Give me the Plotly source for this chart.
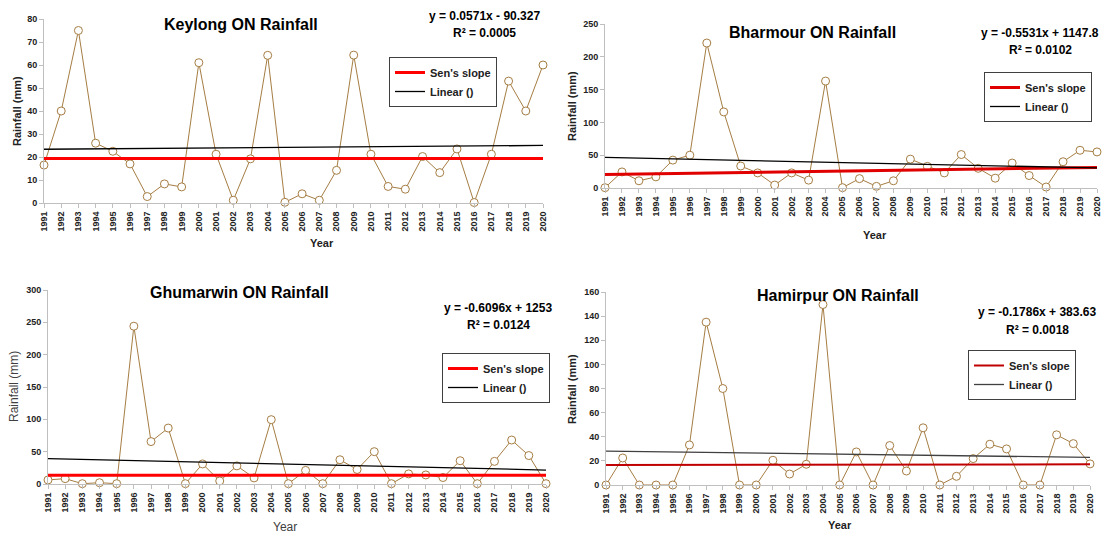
import plotly.graph_objects as go

years = [1991, 1992, 1993, 1994, 1995, 1996, 1997, 1998, 1999, 2000,
         2001, 2002, 2003, 2004, 2005, 2006, 2007, 2008, 2009, 2010,
         2011, 2012, 2013, 2014, 2015, 2016, 2017, 2018, 2019, 2020]
year_labels = [str(y) for y in years]

keylong = [16.5, 40, 75, 26, 22.5, 17, 2.8, 8.3, 7, 61,
           21.2, 1.2, 19.2, 64.2, 0.3, 4, 1.2, 14.2, 64.3, 21.2,
           7.2, 6, 20.2, 13.2, 23.5, 0.2, 21.2, 53, 40, 60]
bharmour = [0.5, 24.5, 11, 17, 42.5, 50, 221, 116, 33.5, 23,
            4.5, 23, 12, 163, 0.5, 14.3, 2.5, 11, 44, 33,
            23, 51, 30, 15, 38, 19, 1.5, 40, 57.5, 55]
ghumarwin = [6.3, 8.3, 0.5, 2, 0.5, 244, 65.6, 86.5, 0.5, 31,
             4.7, 28, 9.4, 99.5, 0.5, 21, 0.5, 37.5, 22.4, 50,
             0.5, 15.6, 14, 10, 36, 0.5, 35, 68, 44, 0.5]
hamirpur = [0, 22.4, 0, 0, 0, 33.2, 135, 80, 0, 0,
            20.5, 9.1, 17.2, 149.6, 0, 27.4, 0, 32.7, 11.6, 47.4,
            0, 7.2, 21.9, 33.8, 29.9, 0, 0, 41.6, 34.3, 17.5]

# Sen's slope line end values (1991, 2020)
sen_keylong = [19.3, 19.3]
sen_bharmour = [20.4, 31.4]
sen_ghumarwin = [13.5, 13.5]
sen_hamirpur = [16.5, 17.2]

# printed linear-trend coefficients (slope, intercept)
lin_keylong = [0.0571, -90.327]
lin_bharmour = [-0.5531, 1147.8]
lin_ghumarwin = [-0.6096, 1253]
lin_hamirpur = [-0.1786, 383.63]

titles = ["Keylong ON Rainfall", "Bharmour ON Rainfall",
          "Ghumarwin ON Rainfall", "Hamirpur ON Rainfall"]
equations = ["y = 0.0571x - 90.327", "y = -0.5531x + 1147.8",
             "y = -0.6096x + 1253", "y = -0.1786x + 383.63"]
r2_labels = ["R² = 0.0005", "R² = 0.0102", "R² = 0.0124", "R² = 0.0018"]
y_ranges = [[0, 80], [0, 250], [0, 300], [0, 160]]
y_dticks = [10, 50, 50, 20]

W, H = 1104, 533
FONT = "Liberation Sans, Arial, sans-serif"
BROWN = "#A57D43"
AXC = "#BFBFBF"

# panel pixel geometry in page pixels: (x_left, x_right, y_top, y_bottom)
panels = [(44, 543, 19, 203), (605, 1097, 24, 188),
          (48, 546, 290, 484), (606, 1090, 292, 485)]

def px(x):
    return min(1.0, max(0.0, x / W))

def py(y):
    return min(1.0, max(0.0, 1 - y / H))

series = [keylong, bharmour, ghumarwin, hamirpur]
sens = [sen_keylong, sen_bharmour, sen_ghumarwin, sen_hamirpur]
lins = [lin_keylong, lin_bharmour, lin_ghumarwin, lin_hamirpur]
sen_colors = ["#FF0000", "#E00000", "#FF0000", "#C00000"]
sen_widths = [3, 3, 3, 2]
lin_colors = ["#000000", "#000000", "#000000", "#404040"]

fig = go.Figure()
layout = {}
annotations = []

title_pos = [(241, 24), (812, 32), (239, 292), (838, 295)]
eq_pos = [(484, 16, 33), (1040, 33, 50), (498, 308, 325), (1037, 312, 330)]
legend_pos = [(389, 57), (984, 72), (442, 353), (968, 350)]
year_pos = [(322, 243), (875, 235), (285, 527), (840, 525)]
rain_pos = [(17, 111), (572, 106), (14, 387), (572, 389)]
bold_axis = [True, True, False, True]

for i in range(4):
    xa = "x" if i == 0 else f"x{i+1}"
    ya = "y" if i == 0 else f"y{i+1}"
    lg = "legend" if i == 0 else f"legend{i+1}"
    x0, x1, yt, yb = panels[i]
    axis_suffix = "" if i == 0 else str(i + 1)

    fig.add_trace(go.Scatter(
        x=years, y=series[i], mode="lines+markers", xaxis=xa, yaxis=ya,
        line=dict(color=BROWN, width=1),
        marker=dict(symbol="circle", size=8, color="white",
                    line=dict(color=BROWN, width=1)),
        showlegend=False, cliponaxis=False, hoverinfo="x+y"))
    fig.add_trace(go.Scatter(
        x=[years[0], years[-1]], y=sens[i], mode="lines", xaxis=xa, yaxis=ya,
        line=dict(color=sen_colors[i], width=sen_widths[i]),
        name="Sen's slope", legend=lg, cliponaxis=False))
    s, b = lins[i]
    fig.add_trace(go.Scatter(
        x=[years[0], years[-1]], y=[s * years[0] + b, s * years[-1] + b],
        mode="lines", xaxis=xa, yaxis=ya,
        line=dict(color=lin_colors[i], width=1.3),
        name="Linear ()", legend=lg, cliponaxis=False))

    layout["xaxis" + axis_suffix] = dict(
        domain=[px(x0), px(x1)], range=[years[0], years[-1]],
        anchor=ya, tickmode="array", tickvals=years, ticktext=year_labels,
        tickangle=-90, tickfont=dict(family=FONT, size=9, color="#222",
                                     weight="bold"),
        showline=True, linecolor=AXC, linewidth=1, ticks="outside",
        ticklen=4, tickcolor=AXC, showgrid=False, zeroline=False)
    layout["yaxis" + axis_suffix] = dict(
        domain=[py(yb), py(yt)], range=y_ranges[i], dtick=y_dticks[i],
        anchor=xa, tickfont=dict(family=FONT, size=9, color="#222",
                                 weight="bold"),
        showline=True, linecolor=AXC, linewidth=1, ticks="outside",
        ticklen=4, tickcolor=AXC, showgrid=False, zeroline=False)

    lx, ly = legend_pos[i]
    layout[lg] = dict(
        x=px(lx), y=py(ly), xanchor="left", yanchor="top",
        bordercolor="#404040", borderwidth=1, bgcolor="white",
        font=dict(family=FONT, size=11, color="#222", weight="bold"),
        itemwidth=30, tracegroupgap=2)

    tx, ty = title_pos[i]
    annotations.append(dict(
        x=px(tx), y=py(ty), xref="paper", yref="paper", showarrow=False,
        text=f"<b>{titles[i]}</b>", xanchor="center", yanchor="middle",
        font=dict(family=FONT, size=16, color="#000")))
    ex, ey1, ey2 = eq_pos[i]
    annotations.append(dict(
        x=px(ex), y=py(ey1), xref="paper", yref="paper", showarrow=False,
        text=f"<b>{equations[i]}</b>", xanchor="center", yanchor="middle",
        font=dict(family=FONT, size=12, color="#000")))
    annotations.append(dict(
        x=px(ex), y=py(ey2), xref="paper", yref="paper", showarrow=False,
        text=f"<b>{r2_labels[i]}</b>", xanchor="center", yanchor="middle",
        font=dict(family=FONT, size=12, color="#000")))
    wt = "bold" if bold_axis[i] else "normal"
    ycol = "#222" if bold_axis[i] else "#404040"
    yx, yy = year_pos[i]
    annotations.append(dict(
        x=px(yx), y=py(yy), xref="paper", yref="paper", showarrow=False,
        text="Year", xanchor="center", yanchor="middle",
        font=dict(family=FONT, size=11 if bold_axis[i] else 12,
                  color=ycol, weight=wt)))
    rx, ry = rain_pos[i]
    annotations.append(dict(
        x=px(rx), y=py(ry), xref="paper", yref="paper", showarrow=False,
        text="Rainfall (mm)", textangle=-90, xanchor="center",
        yanchor="middle",
        font=dict(family=FONT, size=11 if bold_axis[i] else 12,
                  color=ycol, weight=wt)))

fig.update_layout(
    width=W, height=H, margin=dict(l=0, r=0, t=0, b=0, autoexpand=False),
    paper_bgcolor="white", plot_bgcolor="white",
    annotations=annotations, **layout)

fig.write_html(
    "out.html",
    config={"displayModeBar": False},
    post_script="document.body.style.margin='0px';"
                "document.body.style.overflow='hidden';"
                "document.documentElement.style.overflow='hidden';")
